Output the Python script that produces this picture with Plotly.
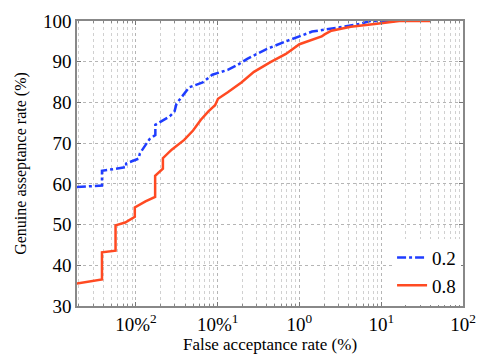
import plotly.graph_objects as go

# Data
far_02 = [0.0019, 0.00385, 0.00385, 0.0076, 0.0076, 0.0108, 0.0112, 0.0147, 0.0173, 0.0173,
          0.026, 0.0297, 0.0314, 0.038, 0.0448, 0.0656, 0.0861, 0.133, 0.175, 0.230,
          0.396, 0.683, 1.0, 1.43, 3.5, 5.57, 7.3, 15.2]
gar_02 = [59.2, 59.6, 63.2, 64.1, 65.0, 66.2, 67.5, 71.0, 72.0, 74.5,
          76.6, 77.8, 79.7, 82.0, 83.7, 84.9, 86.8, 88.0, 89.2, 90.7,
          93.1, 95.0, 96.2, 97.4, 98.6, 99.3, 100.0, 100.0]

far_08 = [0.0019, 0.00385, 0.00385, 0.00564, 0.00564, 0.0074, 0.0097, 0.0097, 0.0131, 0.0172,
          0.0172, 0.0214, 0.0214, 0.0274, 0.039, 0.050, 0.062, 0.077, 0.093, 0.101,
          0.133, 0.195, 0.278, 0.442, 0.683, 1.0, 1.87, 2.03, 2.46, 4.24, 8.85, 16.6, 40.0]
gar_08 = [35.5, 36.5, 43.2, 43.6, 49.8, 50.5, 51.9, 54.2, 55.7, 56.8,
          62.0, 63.7, 66.3, 68.4, 70.8, 73.1, 75.7, 77.8, 79.3, 80.9,
          82.5, 84.9, 87.5, 89.9, 91.9, 94.3, 96.2, 96.7, 97.6, 98.6, 99.3, 100.0, 100.0]

x_tickvals = [0.01, 0.1, 1, 10, 100]
x_ticktext = ["10%<sup>2</sup>", "10%<sup>1</sup>", "10<sup>0</sup>", "10<sup>1</sup>", "10<sup>2</sup>"]
y_tickvals = [30, 40, 50, 60, 70, 80, 90, 100]
minor_vals = [m * 10.0 ** e for e in range(-3, 2) for m in range(2, 10)]

font_family = "Liberation Serif"

fig = go.Figure()
fig.add_trace(go.Scatter(x=far_02, y=gar_02, mode="lines", name="0.2",
                         line=dict(color="#1f3dff", width=2.5, dash="dashdot")))
fig.add_trace(go.Scatter(x=far_08, y=gar_08, mode="lines", name="0.8",
                         line=dict(color="#ff4a22", width=2.5)))

fig.update_layout(
    width=487, height=360,
    margin=dict(l=77, r=11, t=14, b=49),
    paper_bgcolor="white", plot_bgcolor="white",
    font=dict(family=font_family, size=16, color="black"),
    legend=dict(x=0.995, y=0.005, xanchor="right", yanchor="bottom",
                bgcolor="white", borderwidth=0, font=dict(family=font_family, size=19),
                tracegroupgap=0),
    showlegend=True,
)
fig.update_xaxes(
    type="log", range=[-2.72, 2.0],
    tickmode="array", tickvals=x_tickvals, ticktext=x_ticktext,
    ticks="inside", ticklen=4, tickcolor="#777",
    showline=True, linecolor="#888", linewidth=1.5, mirror="ticks",
    showgrid=True, gridcolor="#b5b5b5", griddash="dot", gridwidth=1,
    minor=dict(tickmode="array", tickvals=minor_vals, ticks="inside", ticklen=2,
               tickcolor="#888", showgrid=True, gridcolor="#d0d0d0", griddash="dot", gridwidth=1),
    title=dict(text="False acceptance rate (%)", font=dict(family=font_family, size=17), standoff=3),
    tickfont=dict(family=font_family, size=19),
    zeroline=False,
)
fig.update_yaxes(
    range=[30, 100], tickmode="array", tickvals=y_tickvals,
    ticks="inside", ticklen=4, tickcolor="#777",
    showline=True, linecolor="#888", linewidth=1.5, mirror="ticks",
    showgrid=True, gridcolor="#b5b5b5", griddash="dot", gridwidth=1,
    title=dict(text="Genuine asseptance rate (%)", font=dict(family=font_family, size=16), standoff=12),
    tickfont=dict(family=font_family, size=19),
    zeroline=False,
)

fig.write_html("out.html")
